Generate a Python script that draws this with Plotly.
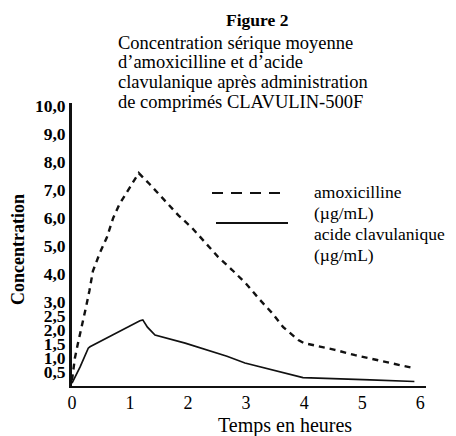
import plotly.graph_objects as go

# Data (time in hours, concentration in µg/mL)
amox_t = [0.0, 0.05, 0.10, 0.17, 0.24, 0.30, 0.36, 0.48, 0.60, 0.71, 0.82, 1.00, 1.15,
          1.34, 1.46, 1.64, 1.83, 2.07, 2.30, 2.52, 2.76, 3.00, 3.24, 3.45, 3.64, 3.90,
          4.00, 4.22, 4.53, 4.88, 5.19, 5.53, 5.88]
amox_c = [0.2, 1.0, 1.5, 2.1, 2.8, 3.4, 4.1, 4.75, 5.3, 6.0, 6.5, 7.1, 7.6,
          7.2, 6.93, 6.5, 6.1, 5.64, 5.1, 4.6, 4.14, 3.65, 3.07, 2.6, 2.1, 1.64,
          1.53, 1.43, 1.29, 1.1, 0.96, 0.79, 0.64]

clav_t = [0.0, 0.05, 0.14, 0.28, 0.31, 1.17, 1.22, 1.30, 1.43, 1.95, 2.67, 2.98, 3.98, 5.14, 5.90]
clav_c = [0.1, 0.3, 0.68, 1.35, 1.4, 2.33, 2.36, 2.1, 1.82, 1.53, 1.06, 0.82, 0.3, 0.22, 0.16]

y_tickvals = [0.5, 1.0, 1.5, 2.0, 2.5, 3.0, 4.0, 5.0, 6.0, 7.0, 8.0, 9.0, 10.0]
y_ticktext = ["0,5", "1,0", "1,5", "2,0", "2,5", "3,0", "4,0", "5,0", "6,0", "7,0", "8,0", "9,0", "10,0"]
x_tickvals = [0, 1, 2, 3, 4, 5, 6]

title_lines = ["Concentration sérique moyenne", "d’amoxicilline et d’acide",
               "clavulanique après administration", "de comprimés CLAVULIN-500F"]
legend_labels = ["amoxicilline", "(µg/mL)", "acide clavulanique", "(µg/mL)"]

SERIF = "Liberation Serif, Times New Roman, serif"
PW, PH = 354.0, 283.0   # plot area size in px
X0, Y0 = 72.0, 386.0    # page px of data origin (target)


def px(xp):
    return (xp - X0) / PW


def py(yp):
    return (Y0 - yp) / PH


fig = go.Figure()
fig.add_trace(go.Scatter(x=amox_t, y=amox_c, mode="lines",
                         line=dict(color="#111", width=2.4, dash="6px,5px"),
                         name="amoxicilline", showlegend=False))
fig.add_trace(go.Scatter(x=clav_t, y=clav_c, mode="lines",
                         line=dict(color="#111", width=1.7),
                         name="acide clavulanique", showlegend=False))

ann = []
ann.append(dict(text="<b>Figure 2</b>", xref="paper", yref="paper", x=px(257), y=py(20),
                xanchor="center", yanchor="middle", showarrow=False,
                font=dict(family=SERIF, size=17.5, color="black")))
for i, line in enumerate(title_lines):
    ann.append(dict(text=line, xref="paper", yref="paper", x=px(116), y=py(42.5 + 19.7 * i),
                    xanchor="left", yanchor="middle", showarrow=False,
                    font=dict(family=SERIF, size=18.5, color="black")))
legend_y = [192, 213, 234, 255]
for lab, yy in zip(legend_labels, legend_y):
    ann.append(dict(text=lab, xref="paper", yref="paper", x=px(312), y=py(yy),
                    xanchor="left", yanchor="middle", showarrow=False,
                    font=dict(family=SERIF, size=17.5, color="black")))
ann.append(dict(text="Temps en heures", xref="paper", yref="paper", x=px(285), y=py(425),
                xanchor="center", yanchor="middle", showarrow=False,
                font=dict(family=SERIF, size=20, color="black")))
ann.append(dict(text="<b>Concentration</b>", xref="paper", yref="paper", x=px(18), y=py(250),
                xanchor="center", yanchor="middle", showarrow=False, textangle=-90,
                font=dict(family=SERIF, size=18, color="black")))

shapes = [
    dict(type="line", xref="paper", yref="paper", x0=px(212), x1=px(280),
         y0=py(193), y1=py(193), line=dict(color="#111", width=2, dash="11px,8px")),
    dict(type="line", xref="paper", yref="paper", x0=px(216), x1=px(288),
         y0=py(223), y1=py(223), line=dict(color="#111", width=1.8)),
]

# page body adds an 8px offset; compensate so the plot sits where the reference has it
fig.update_layout(
    width=440, height=428,
    margin=dict(l=64, r=22, t=95, b=50),
    paper_bgcolor="white", plot_bgcolor="white",
    annotations=ann, shapes=shapes,
    xaxis=dict(range=[0, 6.1], tickvals=x_tickvals, showgrid=False, zeroline=False,
               showline=True, linecolor="#111", linewidth=1.6, ticks="",
               tickfont=dict(family=SERIF, size=18, color="black"),
               tickprefix="<b>", ticksuffix="</b>"),
    yaxis=dict(range=[0, 10.1], tickvals=y_tickvals,
               ticktext=["<b>%s</b>" % t for t in y_ticktext],
               showgrid=False, zeroline=False, showline=True, linecolor="#111", linewidth=3,
               ticks="", tickfont=dict(family=SERIF, size=17.5, color="black")),
)

fig.write_html("out.html")
